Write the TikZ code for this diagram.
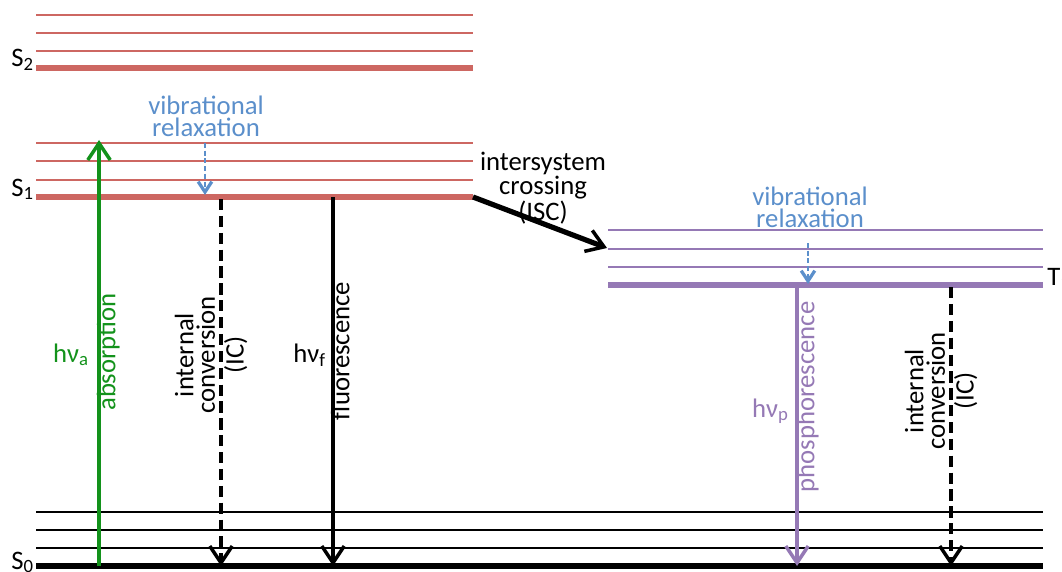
\documentclass[tikz,border=0pt]{standalone}
\usepackage{fontspec}
\setmainfont{Carlito}
\usetikzlibrary{arrows.meta}
\definecolor{sing}{HTML}{CD6762}
\definecolor{trip}{HTML}{9579B5}
\definecolor{vibc}{HTML}{5B8FCB}
\definecolor{absc}{HTML}{13921B}
\definecolor{ink}{HTML}{000000}

\begin{document}
\begin{tikzpicture}[x=0.025cm, y=-0.025cm,
    lvl/.style={line width=1.9pt},
    gnd/.style={line width=3.7pt},
    tr/.style={line width=3.1pt, -{Straight Barb[length=4.2mm, width=5.6mm, line width=2.5pt]}},
    ic/.style={tr, dash pattern=on 8pt off 4pt},
    vr/.style={draw=vibc, line width=1.5pt, dash pattern=on 3.5pt off 2pt,
               -{Straight Barb[length=2.6mm, width=3.4mm, line width=2.3pt]}},
    txt/.style={font=\fontsize{19}{15.4}\selectfont, align=center, inner sep=0pt},
    lvlname/.style={font=\fontsize{19}{15.4}\selectfont, inner sep=0pt}]

  \useasboundingbox (0,0) rectangle (1062,571);

  % ── energy levels: S2, S1 (red), T1 (purple), S0 (black) ──
  \foreach \y in {15,33,51} \draw[lvl, sing] (36,\y) -- (473,\y);
  \draw[gnd, sing] (36,68) -- (473,68);
  \foreach \y in {143,161,180} \draw[lvl, sing] (36,\y) -- (473,\y);
  \draw[gnd, sing] (36,197) -- (473,197);
  \foreach \y in {230,249,267} \draw[lvl, trip] (608,\y) -- (1043,\y);
  \draw[gnd, trip] (608,285) -- (1043,285);
  \foreach \y in {512,530,548} \draw[lvl, ink] (36,\y) -- (1043,\y);
  \draw[gnd, ink] (36,566) -- (1043,566);

  \node[lvlname, anchor=base east] (s2) at (34,67)  {S\textsubscript{2}};
  \node[lvlname, anchor=base east] (s1) at (34,196) {S\textsubscript{1}};
  \node[lvlname, anchor=base east] (s0) at (34,569) {S\textsubscript{0}};
  \node[lvlname, anchor=base west] (t1) at (1047,285) {T\textsubscript{1}};

  % ── end points of the transitions ──
  \coordinate (a0) at (99,566);  \coordinate (a1) at (99,140);
  \coordinate (v0) at (205,143); \coordinate (v1) at (205,195);
  \coordinate (i0) at (221,199); \coordinate (i1) at (221,566);
  \coordinate (f0) at (333,197); \coordinate (f1) at (333,566);
  \coordinate (x0) at (473,197); \coordinate (x1) at (607,248);
  \coordinate (w0) at (808,243); \coordinate (w1) at (808,284);
  \coordinate (p0) at (797,287); \coordinate (p1) at (797,566);
  \coordinate (j0) at (951,287); \coordinate (j1) at (951,566);

  % ── transitions ──
  \draw[tr, absc] (a0) -- (a1);
  \draw[vr] (v0) -- (v1);
  \draw[ic, ink] (i0) -- (i1);
  \draw[tr, ink] (f0) -- (f1);
  \draw[tr, ink, line width=3.7pt] (x0) -- (x1);
  \draw[vr] (w0) -- (w1);
  \draw[tr, trip] (p0) -- (p1);
  \draw[ic, ink] (j0) -- (j1);

  % ── labels ──
  \node[txt, text=absc, anchor=base east] (hva) at (89,362) {hν\textsubscript{a}};
  \node[txt, text=absc, rotate=90, anchor=mid] (labs) at (112,352) {absorption};
  \node[txt, text=vibc] (lvr1) at (206,116) {vibrational\\relaxation};
  \node[txt, rotate=90] (lic1) at (211,355) {internal\\conversion\\[5pt](IC)};
  \node[txt, anchor=base east] (hvf) at (326,362) {hν\textsubscript{f}};
  \node[txt, rotate=90, anchor=mid] (lfl) at (346,351) {fluorescence};
  \node[txt] (lisc) at (543,188) {intersystem\\crossing\\(ISC)};
  \node[txt, text=vibc] (lvr2) at (810,207) {vibrational\\relaxation};
  \node[txt, text=trip, anchor=base east] (hvp) at (789,417) {hν\textsubscript{p}};
  \node[txt, text=trip, rotate=90, anchor=mid] (lph) at (811,397) {phosphorescence};
  \node[txt, rotate=90] (lic2) at (941,391) {internal\\conversion\\[5pt](IC)};
\end{tikzpicture}
\end{document}
